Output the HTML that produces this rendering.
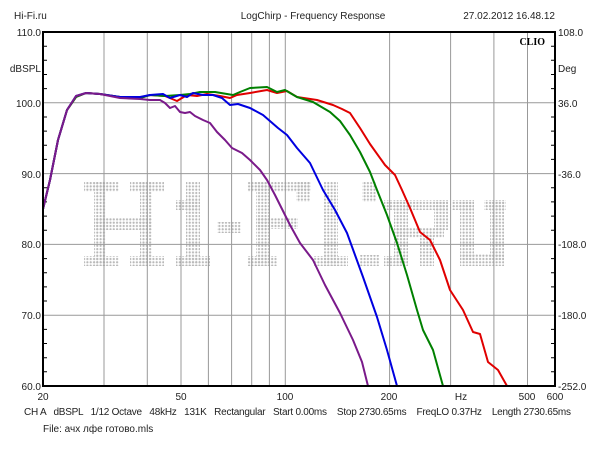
<!DOCTYPE html>
<html><head><meta charset="utf-8"><style>
body{margin:0;background:#fff;}
svg{display:block;font-family:"Liberation Sans",sans-serif;}
</style></head><body>
<svg width="600" height="450" viewBox="0 0 600 450" xmlns="http://www.w3.org/2000/svg">
<defs>
<pattern id="dots" x="0" y="0" width="3.3" height="3.3" patternUnits="userSpaceOnUse">
<circle cx="1.6" cy="1.6" r="1.1" fill="#b8b8b8"/>
</pattern>
</defs>
<rect width="600" height="450" fill="#fff"/>
<g font-size="10" fill="#222">
<text x="14" y="19">Hi-Fi.ru</text>
<text x="313" y="19" text-anchor="middle">LogChirp - Frequency Response</text>
<text x="555" y="19" text-anchor="end">27.02.2012 16.48.12</text>
</g>
<!-- watermark -->
<g fill="url(#dots)">
<rect x="84" y="182" width="35" height="10"/><rect x="130" y="182" width="34" height="10"/>
<rect x="94" y="182" width="12" height="84"/><rect x="140" y="182" width="12" height="84"/>
<rect x="94" y="218" width="58" height="12"/>
<rect x="84" y="256" width="35" height="10"/><rect x="130" y="256" width="34" height="10"/>
<rect x="186" y="182" width="14" height="84"/><rect x="176" y="256" width="34" height="10"/><rect x="176" y="200" width="24" height="10"/>
<rect x="217" y="222" width="24" height="11"/>
<rect x="247" y="182" width="64" height="10"/><rect x="256" y="182" width="14" height="84"/><rect x="247" y="256" width="30" height="10"/><rect x="256" y="218" width="42" height="11"/><rect x="296" y="182" width="14" height="20"/>
<rect x="324" y="182" width="14" height="84"/><rect x="314" y="256" width="34" height="10"/><rect x="362" y="182" width="14" height="20"/>
<rect x="360" y="255" width="20" height="11"/>
<rect x="384" y="200" width="64" height="10"/><rect x="394" y="200" width="14" height="66"/><rect x="434" y="200" width="14" height="30"/><rect x="394" y="228" width="50" height="10"/><rect x="420" y="236" width="14" height="30"/><rect x="384" y="256" width="24" height="10"/>
<rect x="452" y="200" width="22" height="10"/><rect x="460" y="200" width="14" height="60"/><rect x="484" y="200" width="22" height="10"/><rect x="490" y="200" width="14" height="60"/><rect x="460" y="254" width="44" height="12"/>
</g>
<!-- grid -->
<g stroke="#999" stroke-width="1">
<line x1="104" y1="32" x2="104" y2="386"/><line x1="147.3" y1="32" x2="147.3" y2="386"/><line x1="181" y1="32" x2="181" y2="386"/><line x1="208.4" y1="32" x2="208.4" y2="386"/><line x1="231.6" y1="32" x2="231.6" y2="386"/><line x1="251.7" y1="32" x2="251.7" y2="386"/><line x1="269.4" y1="32" x2="269.4" y2="386"/><line x1="285.3" y1="32" x2="285.3" y2="386"/><line x1="389.6" y1="32" x2="389.6" y2="386"/><line x1="450.6" y1="32" x2="450.6" y2="386"/><line x1="493.9" y1="32" x2="493.9" y2="386"/><line x1="527.5" y1="32" x2="527.5" y2="386"/>
<line x1="43" y1="102.8" x2="555" y2="102.8"/><line x1="43" y1="173.6" x2="555" y2="173.6"/><line x1="43" y1="244.4" x2="555" y2="244.4"/><line x1="43" y1="315.2" x2="555" y2="315.2"/>
</g>
<!-- minor ticks -->
<g stroke="#000" stroke-width="1">
<path d="M43 46.2h4M43 60.3h4M43 74.5h4M43 88.6h4M43 117h4M43 131.1h4M43 145.3h4M43 159.4h4M43 187.8h4M43 201.9h4M43 216.1h4M43 230.2h4M43 258.6h4M43 272.7h4M43 286.9h4M43 301h4M43 329.4h4M43 343.5h4M43 357.7h4M43 371.8h4"/>
<path d="M555 46.2h-4M555 60.3h-4M555 74.5h-4M555 88.6h-4M555 117h-4M555 131.1h-4M555 145.3h-4M555 159.4h-4M555 187.8h-4M555 201.9h-4M555 216.1h-4M555 230.2h-4M555 258.6h-4M555 272.7h-4M555 286.9h-4M555 301h-4M555 329.4h-4M555 343.5h-4M555 357.7h-4M555 371.8h-4"/>
</g>
<!-- curves -->
<g fill="none" stroke-width="2" stroke-linejoin="round" stroke-linecap="round">
<path stroke="#e00000" d="M43,209 L50,180 L58,140 L67,110 L76,97 L86,93 L100,94 L120,97 L140,98 L150,95 L165,96 L177,101 L187,95 L197,96 L207,94 L220,96 L230,98 L237,95 L250,93 L267,90 L277,93 L287,91 L297,97 L317,100 L333,105 L342,109 L350,113 L360,128 L370,144 L385,165 L395,175 L402,190 L410,208 L420,232 L430,240 L440,260 L450,290 L463,310 L473,332 L480,334 L488,362 L498,370 L507,386"/>
<path stroke="#008000" d="M43,209 L50,180 L58,140 L67,110 L76,97 L86,93 L100,94 L120,97 L140,98 L150,95 L165,96 L180,95 L190,94 L200,92 L215,92 L233,95 L240,92 L250,88 L267,87 L277,92 L285,90 L297,97 L313,102 L330,112 L340,121 L350,135 L360,152 L370,172 L377,190 L387,215 L397,243 L407,275 L417,310 L423,330 L433,350 L443,386"/>
<path stroke="#0000e0" d="M43,209 L50,180 L58,140 L67,110 L76,96 L86,93 L100,94 L120,97 L140,97 L150,95 L163,94 L170,98 L180,95 L187,97 L193,93 L203,95 L213,95 L222,98 L230,105 L238,104 L250,108 L263,115 L278,128 L287,135 L297,148 L310,163 L323,190 L335,210 L347,233 L355,255 L363,277 L377,317 L387,350 L397,386"/>
<path stroke="#7a1a8a" d="M43,209 L50,180 L58,140 L67,110 L76,96 L86,93 L100,94 L120,98 L140,99 L150,100 L160,100 L165,103 L170,108 L175,106 L180,112 L185,113 L190,112 L195,116 L203,120 L210,123 L217,132 L225,140 L232,148 L242,153 L250,160 L260,170 L267,180 L275,195 L280,205 L290,225 L300,243 L313,260 L325,285 L340,313 L353,340 L362,362 L368,386"/>
</g>
<rect x="43" y="32" width="512" height="354" fill="none" stroke="#000" stroke-width="2"/>
<text x="545" y="45" text-anchor="end" font-family="Liberation Serif,serif" font-weight="bold" font-size="10">CLIO</text>
<g font-size="10" fill="#222">
<text x="41" y="36" text-anchor="end">110.0</text>
<text x="41" y="72" text-anchor="end">dBSPL</text>
<text x="41" y="107" text-anchor="end">100.0</text>
<text x="41" y="178" text-anchor="end">90.0</text>
<text x="41" y="248" text-anchor="end">80.0</text>
<text x="41" y="319" text-anchor="end">70.0</text>
<text x="41" y="390" text-anchor="end">60.0</text>
<text x="558" y="36">108.0</text>
<text x="558" y="72">Deg</text>
<text x="558" y="107">36.0</text>
<text x="558" y="178">-36.0</text>
<text x="558" y="248">-108.0</text>
<text x="558" y="319">-180.0</text>
<text x="558" y="390">-252.0</text>
<text x="43" y="400" text-anchor="middle">20</text>
<text x="181" y="400" text-anchor="middle">50</text>
<text x="285" y="400" text-anchor="middle">100</text>
<text x="389" y="400" text-anchor="middle">200</text>
<text x="461" y="400" text-anchor="middle">Hz</text>
<text x="527" y="400" text-anchor="middle">500</text>
<text x="555" y="400" text-anchor="middle">600</text>
<text x="24" y="415" textLength="547" lengthAdjust="spacing" xml:space="preserve">CH A   dBSPL   1/12 Octave   48kHz   131K   Rectangular   Start 0.00ms    Stop 2730.65ms    FreqLO 0.37Hz    Length 2730.65ms</text>
<text x="43" y="432">File: ачх лфе готово.mls</text>
</g>
</svg>
</body></html>
